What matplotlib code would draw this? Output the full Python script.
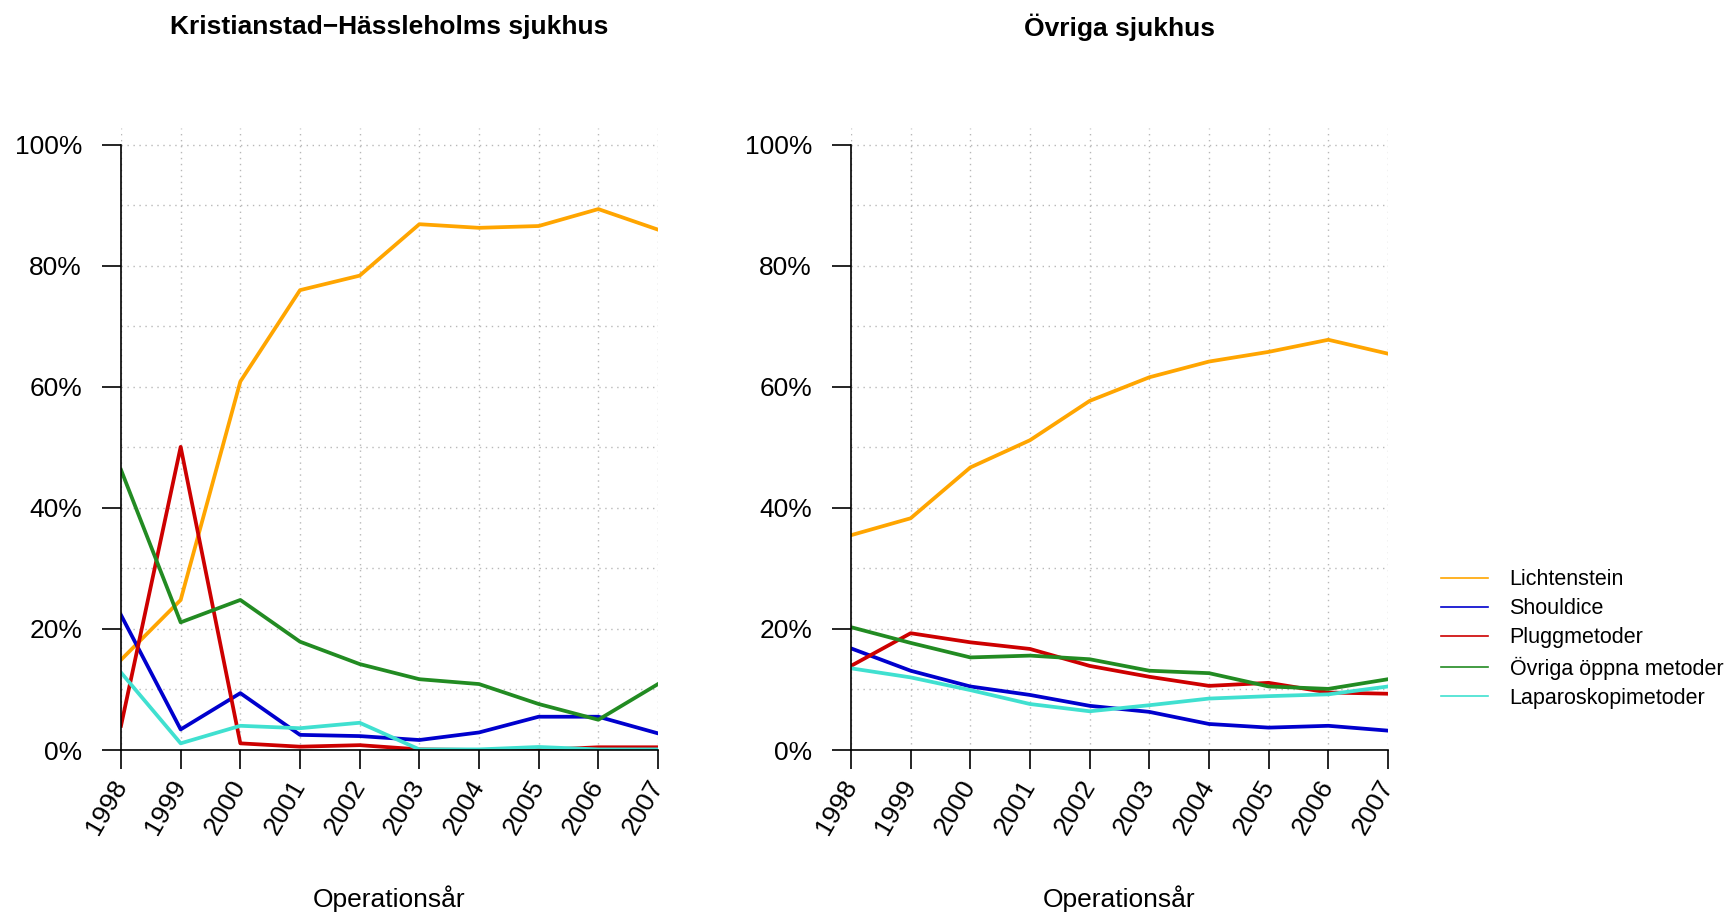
from __future__ import annotations

import matplotlib

matplotlib.use("Agg")
import matplotlib.pyplot as plt
from matplotlib.ticker import FixedLocator


years = [1998, 1999, 2000, 2001, 2002, 2003, 2004, 2005, 2006, 2007]
methods = ["Lichtenstein", "Shouldice", "Pluggmetoder", "Övriga öppna metoder", "Laparoskopimetoder"]
colors = ["#FFA500", "#0000CD", "#CD0000", "#228B22", "#40E0D0"]

# andel (%) per operationsår
kristianstad = {
    "Lichtenstein": [14.9, 24.8, 60.9, 76.0, 78.4, 86.9, 86.3, 86.6, 89.4, 86.0],
    "Shouldice": [22.3, 3.4, 9.4, 2.5, 2.3, 1.65, 2.9, 5.5, 5.5, 2.75],
    "Pluggmetoder": [4.0, 50.1, 1.1, 0.55, 0.8, 0.1, 0.0, 0.0, 0.45, 0.45],
    "Övriga öppna metoder": [46.3, 21.1, 24.8, 17.9, 14.2, 11.7, 10.9, 7.6, 5.0, 10.9],
    "Laparoskopimetoder": [12.8, 1.1, 4.0, 3.6, 4.5, 0.1, 0.1, 0.5, 0.1, 0.1],
}
ovriga = {
    "Lichtenstein": [35.5, 38.3, 46.7, 51.2, 57.7, 61.6, 64.2, 65.8, 67.8, 65.5],
    "Shouldice": [16.8, 13.1, 10.5, 9.1, 7.3, 6.3, 4.3, 3.7, 4.0, 3.2],
    "Pluggmetoder": [13.9, 19.3, 17.8, 16.7, 13.9, 12.1, 10.6, 11.1, 9.5, 9.3],
    "Övriga öppna metoder": [20.3, 17.7, 15.3, 15.6, 15.0, 13.1, 12.7, 10.5, 10.1, 11.7],
    "Laparoskopimetoder": [13.5, 12.0, 9.9, 7.6, 6.4, 7.4, 8.5, 8.9, 9.2, 10.5],
}
panels = [("Kristianstad−Hässleholms sjukhus", kristianstad), ("Övriga sjukhus", ovriga)]

plt.rcParams["font.family"] = ["Liberation Sans", "DejaVu Sans"]

W, H = 1726, 913
fig = plt.figure(figsize=(W / 100, H / 100), dpi=100)

lefts = [121, 851]
for (title, data), left in zip(panels, lefts):
    ax = fig.add_axes([left / W, 1 - 750 / H, 537 / W, 622 / H])
    ax.set_xlim(1998, 2007)
    ax.set_ylim(0, 102.8)
    # dotted grid every year and every 10%
    for x in years:
        ax.axvline(x, color="#b8b8b8", lw=1.0, linestyle=(0, (1, 3.3)), zorder=0)
    for y in range(10, 101, 10):
        ax.axhline(y, color="#b8b8b8", lw=1.0, linestyle=(0, (1, 3.3)), zorder=0)
    for m, c in zip(methods, colors):
        ax.plot(years, data[m], color=c, lw=2.7, label=m)
    for s in ["top", "right"]:
        ax.spines[s].set_visible(False)
    ax.spines["left"].set_bounds(0, 100)
    ax.spines["left"].set_linewidth(1.2)
    ax.spines["bottom"].set_linewidth(1.2)
    ax.yaxis.set_major_locator(FixedLocator([0, 20, 40, 60, 80, 100]))
    ax.set_yticklabels([f"{v}%" for v in [0, 20, 40, 60, 80, 100]])
    ax.set_xticks(years)
    ax.set_xticklabels([str(y) for y in years], rotation=60, ha="right", va="center",
                       rotation_mode="anchor")
    ax.tick_params(axis="both", length=14, width=1.2, labelsize=19, direction="out")
    ax.tick_params(axis="y", pad=14)
    ax.tick_params(axis="x", pad=9)
    fig.text((left + 268.5) / W, 1 - 27 / H, title, fontsize=19, fontweight="bold",
             ha="center", va="center")
    fig.text((left + 268.5) / W, 1 - 899 / H, "Operationsår", fontsize=19,
             ha="center", va="center")

handles, labels = ax.get_legend_handles_labels()
leg = fig.legend(handles, labels, loc="center left", bbox_to_anchor=(1432 / W, 1 - 639 / H),
                 frameon=False, fontsize=15.5, handlelength=2.2, handletextpad=1.0,
                 labelspacing=0.38, borderaxespad=0)
for h in leg.get_lines():
    h.set_linewidth(1.2)

fig.savefig("out.png", dpi=100)
